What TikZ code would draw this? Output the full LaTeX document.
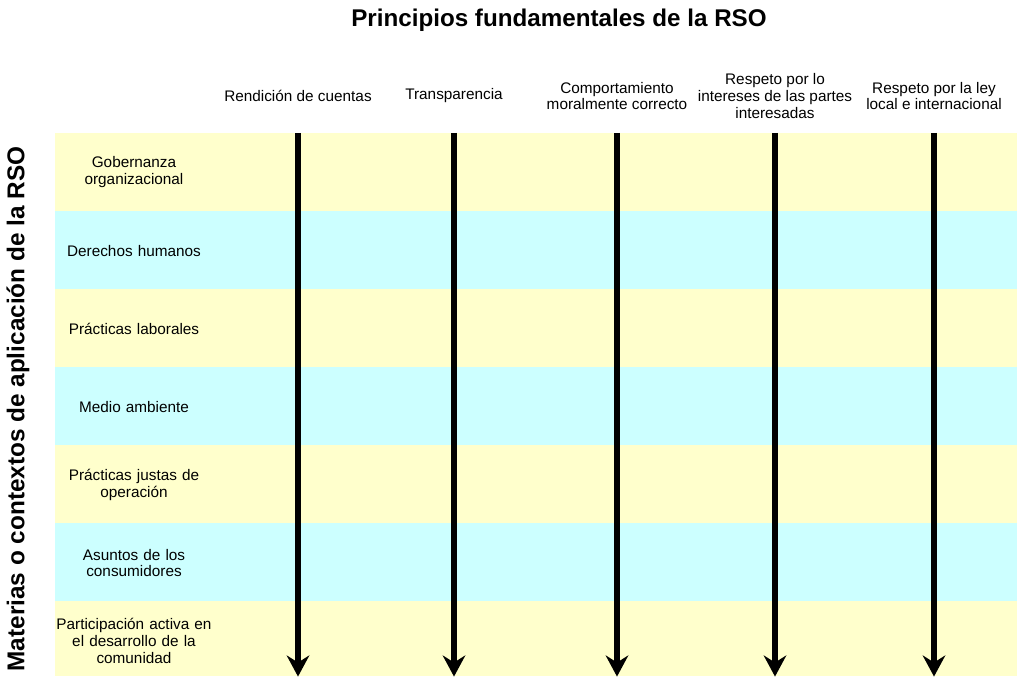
\documentclass[tikz,border=0pt]{standalone}
\usepackage{fontspec}
\setmainfont{Liberation Sans}
\usetikzlibrary{arrows.meta, positioning}

\definecolor{amarillo}{HTML}{FFFFCC}
\definecolor{celeste}{HTML}{CCFFFF}

\begin{document}
\begin{tikzpicture}[x=0.025cm, y=-0.025cm]
        \tikzstyle{banda} = [rectangle, inner sep=0pt, minimum width=24.05cm, minimum height=1.95cm, anchor=north west]
        \tikzstyle{materia} = [text width=4.4cm, align=center, font=\fontsize{10.9}{12}\selectfont]
        \tikzstyle{principio} = [align=center, font=\fontsize{10.9}{11.8}\selectfont]
        \tikzstyle{flecha} = [line width=4.2pt, -{Stealth[length=15pt, width=16pt, inset=5pt]}]

        \useasboundingbox (0,0) rectangle (1017,676);

        \node (titulo) at (559,20) {\fontsize{17.2}{20}\selectfont\bfseries Principios fundamentales de la RSO};
        \node (eje) [rotate=90] at (18,409) {\fontsize{17.3}{20}\selectfont\bfseries Materias o contextos de aplicación de la RSO};

        % franjas de las materias
        \node (gobernanza) [banda, fill=amarillo] at (55,133) {};
        \node (derechos) [banda, fill=celeste] at (55,211) {};
        \node (laborales) [banda, fill=amarillo] at (55,289) {};
        \node (ambiente) [banda, fill=celeste] at (55,367) {};
        \node (operacion) [banda, fill=amarillo] at (55,445) {};
        \node (consumidores) [banda, fill=celeste] at (55,523) {};
        \node (comunidad) [banda, fill=amarillo, minimum height=1.875cm] at (55,601) {};

        \node (tgobernanza) [materia] at (134,172) {Gobernanza\\organizacional};
        \node (tderechos) [materia] at (134,251) {Derechos humanos};
        \node (tlaborales) [materia] at (134,329) {Prácticas laborales};
        \node (tambiente) [materia] at (134,407) {Medio ambiente};
        \node (toperacion) [materia] at (134,485) {Prácticas justas de\\operación};
        \node (tconsumidores) [materia] at (134,563) {Asuntos de los\\consumidores};
        \node (tcomunidad) [materia] at (134,641) {Participación activa en\\el desarrollo de la\\comunidad};

        % principios
        \node (rendicion) [principio] at (298,96) {Rendición de cuentas};
        \node (transparencia) [principio] at (454,96) {Transparencia};
        \node (moral) [principio] at (617,96) {Comportamiento\\moralmente correcto};
        \node (respeto) [principio] at (775,96) {Respeto por lo\\intereses de las partes\\interesadas};
        \node (ley) [principio] at (934,96) {Respeto por la ley\\local e internacional};

        \draw [flecha] (rendicion |- gobernanza.north) -- (rendicion |- comunidad.south);
        \draw [flecha] (transparencia |- gobernanza.north) -- (transparencia |- comunidad.south);
        \draw [flecha] (moral |- gobernanza.north) -- (moral |- comunidad.south);
        \draw [flecha] (respeto |- gobernanza.north) -- (respeto |- comunidad.south);
        \draw [flecha] (ley |- gobernanza.north) -- (ley |- comunidad.south);
\end{tikzpicture}
\end{document}
